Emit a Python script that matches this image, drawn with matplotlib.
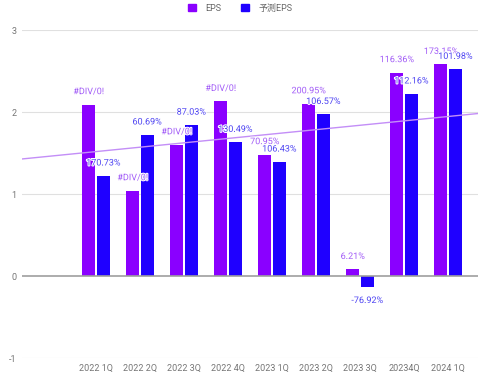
import numpy as np
import matplotlib
matplotlib.use("Agg")
import matplotlib.pyplot as plt
from matplotlib.patches import Patch
import matplotlib.patheffects as pe

plt.rcParams['font.family'] = ['Roboto', 'Noto Sans CJK JP', 'DejaVu Sans']

categories = ["2022 1Q", "2022 2Q", "2022 3Q", "2022 4Q", "2023 1Q",
              "2023 2Q", "2023 3Q", "20234Q", "2024 1Q"]
eps = [2.09, 1.04, 1.60, 2.13, 1.48, 2.10, 0.08, 2.48, 2.58]
eps_forecast = [1.22, 1.72, 1.84, 1.63, 1.39, 1.97, -0.14, 2.22, 2.52]
eps_labels = ["#DIV/0!", "#DIV/0!", "#DIV/0!", "#DIV/0!", "70.95%",
              "200.95%", "6.21%", "116.36%", "173.15%"]
forecast_labels = ["170.73%", "60.69%", "87.03%", "130.49%", "106.43%",
                   "106.57%", "-76.92%", "112.16%", "101.98%"]
yticks = [-1, 0, 1, 2, 3]

c_eps = "#8a00ff"
c_fc = "#1f00ff"
c_eps_lbl = "#a35ef7"
c_fc_lbl = "#4f45f2"

fig = plt.figure(figsize=(4.8, 3.82), dpi=100)
ax = fig.add_axes([22/480, 24/382, 456/480, 328/382])

x = np.arange(1, len(categories) + 1)
w = 0.29
off = 0.165
ax.bar(x - off, eps, w, color=c_eps, zorder=3)
ax.bar(x + off, eps_forecast, w, color=c_fc, zorder=3)

ax.set_xlim(-0.68, len(categories) + 0.68)
ax.set_ylim(-1, 3)

# linear trendline of EPS
coef = np.polyfit(x, eps, 1)
xl = np.array(ax.get_xlim())
ax.plot(xl, np.polyval(coef, xl), color="#c38ef7", lw=1.0, zorder=4)

halo = [pe.withStroke(linewidth=1.5, foreground="white")]
for xi, v, t in zip(x - off, eps, eps_labels):
    ax.annotate(t, (xi, v), xytext=(0, 13 if v >= 0 else -13), textcoords='offset pixels',
                ha='center', va='center', fontsize=6.5, color=c_eps_lbl, zorder=6,
                path_effects=halo)
for xi, v, t in zip(x + off, eps_forecast, forecast_labels):
    ax.annotate(t, (xi, v), xytext=(0, 13 if v >= 0 else -13), textcoords='offset pixels',
                ha='center', va='center', fontsize=6.5, color=c_fc_lbl, zorder=7,
                path_effects=halo)

ax.set_yticks(yticks)
ax.set_yticklabels([str(t) for t in yticks])
ax.set_xticks(x)
ax.set_xticklabels(categories)
ax.tick_params(axis='both', length=0, labelsize=6.5, colors="#757575")
ax.tick_params(axis='y', pad=4)
ax.tick_params(axis='x', pad=4)
for s in ax.spines.values():
    s.set_visible(False)
for t in yticks:
    if t == 0:
        ax.axhline(0, color="#9e9e9e", lw=1.2, zorder=5)
    else:
        ax.axhline(t, color="#e0e0e0", lw=0.8, zorder=1)

handles = [Patch(color=c_eps, label="EPS"), Patch(color=c_fc, label="予測EPS")]
fig.legend(handles=handles, loc='upper center', bbox_to_anchor=(0.5, 1.012), ncol=2,
           frameon=False, fontsize=6.5, handlelength=0.9, handleheight=0.9,
           columnspacing=2.2, handletextpad=1.0, labelcolor="#666666")

fig.savefig("out.png", dpi=100)
